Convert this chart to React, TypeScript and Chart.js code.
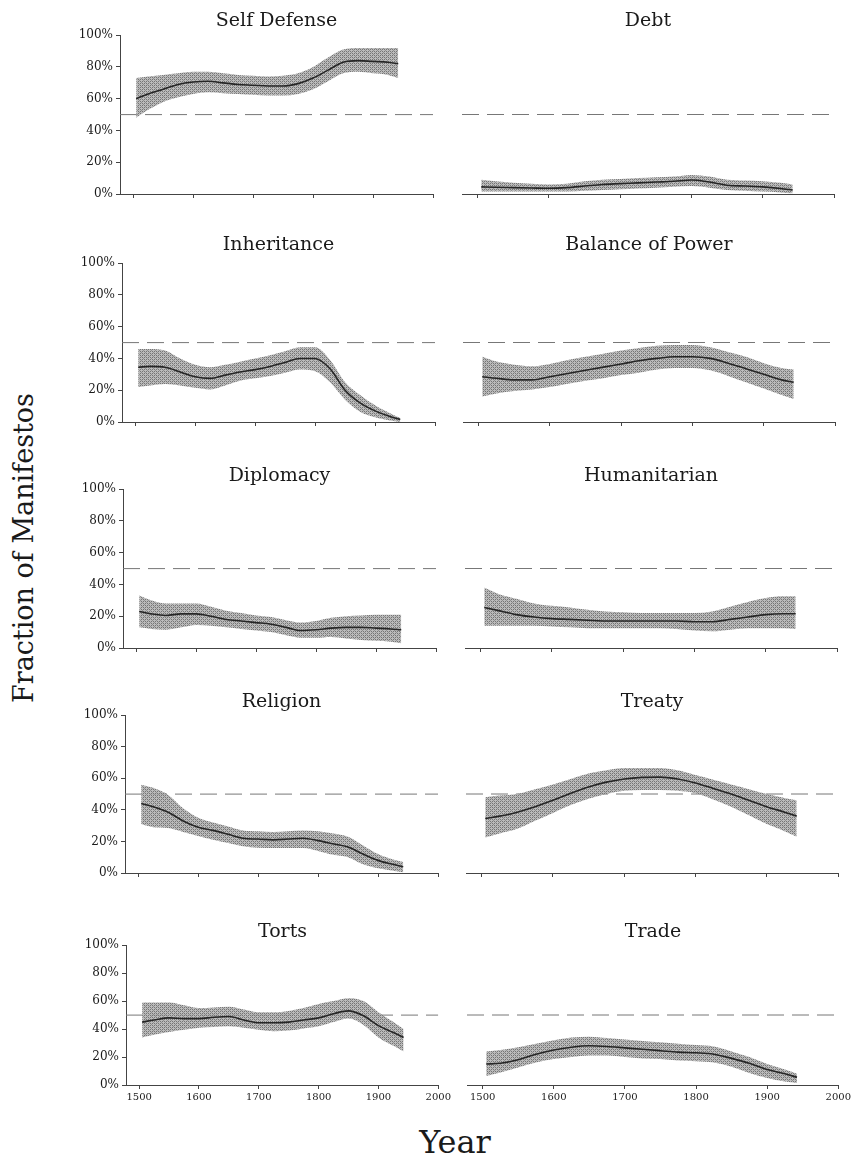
import React, { useEffect, useRef } from "react";
import { Chart, registerables } from "chart.js";

Chart.register(...registerables);

// ---------- data ----------
const YEARS = [1505, 1525, 1550, 1575, 1600, 1625, 1650, 1675, 1700, 1725, 1750, 1775, 1800, 1825, 1850, 1875, 1900, 1925, 1942];
const X_TICKS = [1500, 1600, 1700, 1800, 1900, 2000];
const Y_TICKS = [0, 20, 40, 60, 80, 100];
const REFERENCE_LEVEL = 50;
const X_MIN = 1478;
const X_MAX = 2000;

const SELF_DEFENSE_MEAN = [60, 63, 66, 69, 70.5, 71, 70, 69, 68.5, 68, 68, 69.5, 73, 78, 83, 84, 83.5, 83, 82];
const SELF_DEFENSE_LO = [48, 53, 58, 61, 63, 64, 63.5, 63, 62.5, 62, 62, 63, 66, 71, 76, 77, 76, 75, 73];
const SELF_DEFENSE_HI = [73, 74, 75, 76, 77, 77, 76, 75, 74.5, 74, 74.5, 76, 80, 86, 91, 92, 92, 92, 92];

const DEBT_MEAN = [4.5, 4.2, 4, 3.8, 3.6, 4, 5, 6, 6.5, 7, 7.5, 8, 8.8, 7.5, 5.5, 5, 4.5, 3.5, 2.5];
const DEBT_LO = [1.5, 1.5, 1.5, 1.5, 1.5, 1.5, 2, 2.5, 3, 3.5, 4, 4.5, 5, 4, 2.5, 2, 1.5, 1, 0.5];
const DEBT_HI = [9, 8, 7, 6.5, 6, 6.5, 8, 9, 9.5, 10, 10.5, 11, 12, 11, 9, 8.5, 8, 7, 6];

const INHERITANCE_MEAN = [34.5, 35, 34.5, 31.5, 28.5, 27.5, 29.5, 31.5, 33, 35, 37.5, 40, 40, 33.5, 20, 12, 7, 3.5, 1.5];
const INHERITANCE_LO = [22, 23, 24, 23, 21.5, 20.5, 23, 26, 27.5, 29, 31, 33, 32, 25, 14, 6.5, 3, 1, 0];
const INHERITANCE_HI = [46, 46, 45, 40, 36, 34.5, 36, 38, 40, 42, 44.5, 47, 47, 39, 25, 17, 10.5, 5.5, 2.5];

const BALANCE_MEAN = [28.5, 27.5, 26.5, 26.5, 28.5, 30.5, 32.5, 34.5, 36.5, 38.5, 40, 41, 41, 40, 37, 33.5, 30, 26.5, 25];
const BALANCE_LO = [16, 18, 19.5, 20.5, 22, 24, 26, 27.5, 29.5, 31, 33, 34, 34, 32.5, 29, 25, 21, 17, 14.5];
const BALANCE_HI = [41, 38, 36, 35, 36.5, 39, 41, 43, 45, 46.5, 48, 48.5, 48.5, 47, 44, 41, 37, 34, 33];

const DIPLOMACY_MEAN = [23, 21.5, 20.5, 21.5, 21.5, 20, 18, 17, 16, 15, 13, 11, 11.5, 12.5, 13, 13, 12.5, 12, 11.5];
const DIPLOMACY_LO = [13, 12, 11.5, 13, 14.5, 14, 13, 12, 11, 10, 8, 6.5, 6.5, 7, 6, 5, 4.5, 4, 3];
const DIPLOMACY_HI = [33, 30, 28, 28, 28, 26, 23.5, 22, 20.5, 19.5, 17.5, 16, 17, 19, 20, 20.5, 21, 21, 21];

const HUMANITARIAN_MEAN = [25.5, 23.5, 21, 19.5, 18.5, 18, 17.5, 17, 17, 17, 17, 17, 16.5, 16.5, 18, 19.5, 21, 21.5, 21.5];
const HUMANITARIAN_LO = [14, 14, 14, 14, 13.5, 13, 12.5, 12.5, 12.5, 12.5, 12.5, 12, 11, 10.5, 11.5, 12.5, 12.5, 12.5, 12];
const HUMANITARIAN_HI = [38, 34, 31, 28, 26.5, 25.5, 24, 23, 22.5, 22, 22, 22, 22, 23, 26, 29, 31.5, 32.5, 32.5];

const RELIGION_MEAN = [44, 42, 38.5, 33, 29, 27, 24.5, 22, 21.5, 21, 21.5, 22, 20.5, 18.5, 16.5, 12, 8, 5.5, 4];
const RELIGION_LO = [31, 29, 28.5, 26, 23.5, 21, 19, 17, 16, 15.8, 15.8, 15.8, 14, 11.5, 10, 5.5, 3, 1.5, 0.5];
const RELIGION_HI = [56, 54, 49.5, 41, 35, 32, 29.5, 27, 26.5, 26, 26.5, 27, 26.5, 25, 23, 17.5, 12, 8.5, 7];

const TREATY_MEAN = [34.5, 36, 38.5, 42, 46, 50.5, 54.5, 57.5, 59.5, 60.5, 60.7, 59.5, 57, 53.5, 50, 46, 42, 38.5, 36];
const TREATY_LO = [22.5, 25, 28, 33, 38, 43, 47, 50, 52, 52.5, 52.5, 52, 50.5, 46.5, 42, 36.5, 31, 26.5, 23];
const TREATY_HI = [48, 49, 50, 53, 56, 59.5, 63, 65, 66.5, 66.5, 66.5, 65, 62, 59, 56, 53, 50, 47.5, 46];

const TORTS_MEAN = [45, 46.5, 48, 47.5, 47.5, 48.5, 49, 46.5, 44.5, 44.5, 45, 46.5, 48, 51, 53, 49.5, 42.5, 37.5, 34];
const TORTS_LO = [34, 36, 38, 39.5, 41, 41.5, 42, 41, 39.5, 38.5, 39, 40.5, 42, 45, 47.5, 43, 34, 28, 24];
const TORTS_HI = [59, 59, 59, 57, 55, 55.5, 56, 54, 52, 52, 53, 55, 58, 60, 62, 60, 52, 45, 40];

const TRADE_MEAN = [15, 15.5, 18, 22, 25, 27, 28, 27.5, 26.5, 25.5, 24.5, 23.5, 23, 22, 19, 15.5, 11, 8, 5.5];
const TRADE_LO = [6.5, 9, 12.5, 16, 18.5, 20, 21, 21, 20, 19, 18.5, 17.5, 17, 16, 13, 8.5, 5, 2.5, 1.5];
const TRADE_HI = [24, 25, 27, 29.5, 32, 34, 34.5, 33.5, 32.5, 31.5, 30.5, 29.5, 28.5, 27.5, 24, 20, 15, 11, 8];

const TITLES = ["Self Defense", "Debt", "Inheritance", "Balance of Power", "Diplomacy", "Humanitarian", "Religion", "Treaty", "Torts", "Trade"];
const MEANS = [SELF_DEFENSE_MEAN, DEBT_MEAN, INHERITANCE_MEAN, BALANCE_MEAN, DIPLOMACY_MEAN, HUMANITARIAN_MEAN, RELIGION_MEAN, TREATY_MEAN, TORTS_MEAN, TRADE_MEAN];
const LOWS = [SELF_DEFENSE_LO, DEBT_LO, INHERITANCE_LO, BALANCE_LO, DIPLOMACY_LO, HUMANITARIAN_LO, RELIGION_LO, TREATY_LO, TORTS_LO, TRADE_LO];
const HIGHS = [SELF_DEFENSE_HI, DEBT_HI, INHERITANCE_HI, BALANCE_HI, DIPLOMACY_HI, HUMANITARIAN_HI, RELIGION_HI, TREATY_HI, TORTS_HI, TRADE_HI];

// ---------- layout ----------
const ROW_TOP = [35, 263, 489, 715, 945];
const ROW_BOTTOM = [194, 422, 648, 873, 1085];
const TITLE_CENTER = [19.5, 243, 474, 700, 930];
const LEFT_X = [120, 122, 123, 125, 126];
const RIGHT_X = [462, 463, 465, 466, 467];
const LEFT_W = 313;
const RIGHT_W = 372;
const Y_AXIS_W = 60;
const PAD_T = 10;
const PAD_R = 14;

const FONT = "'DejaVu Serif', 'Liberation Serif', serif";
const INK = "#1a1a1a";
const AXIS = "#444";

function makeBandPattern(): CanvasPattern | string {
  const c = document.createElement("canvas");
  c.width = 4;
  c.height = 4;
  const g = c.getContext("2d");
  if (!g) return "rgba(120,120,120,0.6)";
  g.fillStyle = "rgba(175,175,175,0.85)";
  g.fillRect(0, 0, 4, 4);
  g.fillStyle = "rgba(110,110,110,0.9)";
  g.fillRect(0, 0, 1, 1);
  g.fillRect(2, 2, 1, 1);
  g.fillRect(2, 0, 1, 1);
  g.fillRect(0, 2, 1, 1);
  g.fillStyle = "rgba(140,140,140,0.9)";
  g.fillRect(1, 1, 1, 1);
  g.fillRect(3, 3, 1, 1);
  const p = g.createPattern(c, "repeat");
  return p || "rgba(120,120,120,0.6)";
}

type PanelProps = {
  idx: number;
  left: number;
  top: number;
  width: number;
  height: number;
  showY: boolean;
  showXLabels: boolean;
};

function Panel({ idx, left, top, width, height, showY, showXLabels }: PanelProps) {
  const ref = useRef<HTMLCanvasElement | null>(null);
  const yW = showY ? Y_AXIS_W : 0;
  const xH = showXLabels ? 22 : 14;
  const cw = yW + width + PAD_R;
  const ch = PAD_T + height + xH;

  useEffect(() => {
    if (!ref.current) return;
    const mean = MEANS[idx].map((v, i) => ({ x: YEARS[i], y: v }));
    const lo = LOWS[idx].map((v, i) => ({ x: YEARS[i], y: v }));
    const hi = HIGHS[idx].map((v, i) => ({ x: YEARS[i], y: v }));
    const refLine = [
      { x: X_MIN, y: REFERENCE_LEVEL },
      { x: X_MAX, y: REFERENCE_LEVEL },
    ];
    const chart = new Chart(ref.current, {
      type: "line",
      data: {
        datasets: [
          {
            data: mean,
            borderColor: "#262626",
            borderWidth: 1.6,
            pointRadius: 0,
            fill: false,
            cubicInterpolationMode: "monotone",
          },
          {
            data: hi,
            borderColor: "rgba(0,0,0,0)",
            borderWidth: 0,
            pointRadius: 0,
            backgroundColor: makeBandPattern() as any,
            fill: "+1",
            cubicInterpolationMode: "monotone",
          },
          {
            data: lo,
            borderColor: "rgba(0,0,0,0)",
            borderWidth: 0,
            pointRadius: 0,
            fill: false,
            cubicInterpolationMode: "monotone",
          },
          {
            data: refLine,
            borderColor: "#777",
            borderWidth: 1,
            borderDash: [17, 8],
            pointRadius: 0,
            fill: false,
          },
        ],
      },
      options: {
        animation: false,
        responsive: false,
        devicePixelRatio: 1,
        events: [],
        layout: {
          autoPadding: false,
          padding: { top: PAD_T, right: PAD_R, left: 0, bottom: 0 },
        },
        plugins: {
          legend: { display: false },
          tooltip: { enabled: false },
          title: { display: false },
        },
        scales: {
          x: {
            type: "linear",
            min: X_MIN,
            max: X_MAX,
            afterBuildTicks: (s: any) => {
              s.ticks = X_TICKS.map((v) => ({ value: v }));
            },
            afterFit: (s: any) => {
              s.height = xH;
            },
            ticks: {
              display: showXLabels,
              font: { family: FONT, size: 10 },
              color: INK,
              padding: 2,
              maxRotation: 0,
              callback: (v: any) => String(v),
            },
            grid: {
              drawOnChartArea: false,
              drawTicks: true,
              tickLength: 4,
              color: AXIS,
              lineWidth: 1,
            },
            border: { display: true, color: AXIS, width: 1 },
          },
          y: {
            display: showY,
            min: 0,
            max: 100,
            afterBuildTicks: (s: any) => {
              s.ticks = Y_TICKS.map((v) => ({ value: v }));
            },
            afterFit: (s: any) => {
              s.width = yW;
            },
            ticks: {
              font: { family: FONT, size: 12 },
              color: INK,
              padding: 3,
              callback: (v: any) => v + "%",
            },
            grid: {
              drawOnChartArea: false,
              drawTicks: true,
              tickLength: 4,
              color: AXIS,
              lineWidth: 1,
            },
            border: { display: true, color: AXIS, width: 1 },
          },
        },
      },
    });
    return () => chart.destroy();
  }, [idx, showY, showXLabels]);

  return (
    <canvas
      ref={ref}
      width={cw}
      height={ch}
      style={{
        position: "absolute",
        left: left - yW,
        top: top - PAD_T,
        width: cw,
        height: ch,
      }}
    />
  );
}

export default function App() {
  const panels: any[] = [];
  const titles: any[] = [];
  for (let r = 0; r < 5; r++) {
    for (let c = 0; c < 2; c++) {
      const idx = r * 2 + c;
      const left = c === 0 ? LEFT_X[r] : RIGHT_X[r];
      const width = c === 0 ? LEFT_W : RIGHT_W;
      const top = ROW_TOP[r];
      const height = ROW_BOTTOM[r] - ROW_TOP[r];
      panels.push(
        <Panel
          key={"p" + idx}
          idx={idx}
          left={left}
          top={top}
          width={width}
          height={height}
          showY={c === 0}
          showXLabels={r === 4}
        />
      );
      titles.push(
        <div
          key={"t" + idx}
          style={{
            position: "absolute",
            left,
            width,
            top: TITLE_CENTER[r] - 0.5 * 19,
            height: 19,
            lineHeight: "19px",
            fontSize: 19,
            fontFamily: FONT,
            color: INK,
            textAlign: "center",
            whiteSpace: "nowrap",
          }}
        >
          {TITLES[idx]}
        </div>
      );
    }
  }
  return (
    <div
      style={{
        position: "absolute",
        left: 0,
        top: 0,
        width: 859,
        height: 1162,
        background: "#fff",
        overflow: "hidden",
      }}
    >
      {panels}
      {titles}
      <div
        style={{
          position: "absolute",
          left: 23,
          top: 548,
          transform: "translate(-50%, -50%) rotate(-90deg)",
          fontFamily: FONT,
          fontSize: 27,
          lineHeight: "27px",
          color: INK,
          whiteSpace: "nowrap",
        }}
      >
        Fraction of Manifestos
      </div>
      <div
        style={{
          position: "absolute",
          left: 455,
          top: 1142,
          transform: "translate(-50%, -50%)",
          fontFamily: FONT,
          fontSize: 32,
          lineHeight: "32px",
          color: INK,
          whiteSpace: "nowrap",
        }}
      >
        Year
      </div>
    </div>
  );
}
